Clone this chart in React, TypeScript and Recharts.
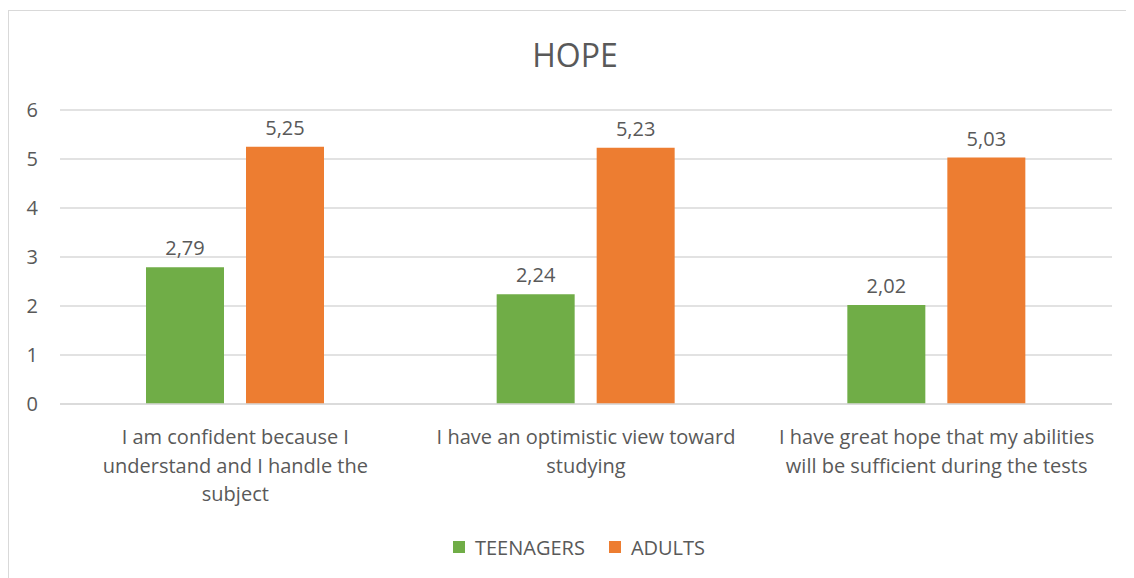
import React from 'react'
import {
  BarChart,
  Bar,
  XAxis,
  YAxis,
  CartesianGrid,
  Legend,
  LabelList,
  Text,
} from 'recharts'

// categories and wrapped tick lines
const CATEGORIES = [
  'I am confident because I understand and I handle the subject',
  'I have an optimistic view toward studying',
  'I have great hope that my abilities will be sufficient during the tests',
]
const TICK_LINES = [
  ['I am confident because I', 'understand and I handle the', 'subject'],
  ['I have an optimistic view toward', 'studying'],
  ['I have great hope that my abilities', 'will be sufficient during the tests'],
]
const TEENAGERS = [2.79, 2.24, 2.02]
const ADULTS = [5.25, 5.23, 5.03]
const Y_TICKS = [0, 1, 2, 3, 4, 5, 6]

const SERIES = [
  { key: 'teenagers', name: 'TEENAGERS', color: '#70ad47' },
  { key: 'adults', name: 'ADULTS', color: '#ed7d31' },
]

const TEXT_COLOR = '#595959'
const FONT = '"Open Sans", "Noto Sans", sans-serif'
const FS = 20

const data = CATEGORIES.map((name, i) => ({
  name,
  teenagers: TEENAGERS[i],
  adults: ADULTS[i],
}))

const fmt = (v: any) => String(v).replace('.', ',')

function CategoryTick(props: any) {
  const { x, y, index } = props
  const lines = TICK_LINES[index] || []
  return (
    <g>
      {lines.map((line, i) => (
        <Text
          key={i}
          x={x}
          y={y + i * 28.5}
          textAnchor="middle"
          verticalAnchor="start"
          fill={TEXT_COLOR}
          fontSize={FS}
          fontFamily={FONT}
        >
          {line}
        </Text>
      ))}
    </g>
  )
}

function LegendBox() {
  return (
    <div
      style={{
        height: 28,
        display: 'flex',
        justifyContent: 'center',
        alignItems: 'center',
        paddingLeft: 26,
        fontSize: FS,
        color: TEXT_COLOR,
        fontFamily: FONT,
      }}
    >
      {SERIES.map((s) => (
        <div key={s.key} style={{ display: 'flex', alignItems: 'center', margin: '0 12px' }}>
          <span style={{ width: 12, height: 12, background: s.color, marginRight: 10 }} />
          <span>{s.name}</span>
        </div>
      ))}
    </div>
  )
}

export default function App() {
  return (
    <div
      style={{
        position: 'relative',
        marginTop: 2,
        width: 1132,
        height: 570,
        border: '1px solid #d9d9d9',
        background: '#fff',
        fontFamily: FONT,
      }}
    >
      <div
        style={{
          position: 'absolute',
          left: 0,
          width: 1132,
          top: 24,
          textAlign: 'center',
          fontSize: 32,
          color: TEXT_COLOR,
          lineHeight: '40px',
        }}
      >
        HOPE
      </div>
      <BarChart
        width={1132}
        height={570}
        data={data}
        margin={{ top: 99, right: 29, left: 11, bottom: 29 }}
        barSize={78}
        barGap={22}
      >
        <CartesianGrid vertical={false} stroke="#d9d9d9" strokeWidth={1.5} />
        <XAxis
          dataKey="name"
          axisLine={{ stroke: '#d9d9d9', strokeWidth: 1.5 }}
          tickLine={false}
          tick={<CategoryTick />}
          tickSize={0}
          tickMargin={26}
          height={120}
          interval={0}
        />
        <YAxis
          domain={[0, 6]}
          ticks={Y_TICKS}
          axisLine={false}
          tickLine={false}
          tickSize={0}
          tickMargin={22}
          width={40}
          tick={{ fill: TEXT_COLOR, fontSize: FS, fontFamily: FONT }}
        />
        <Legend
          verticalAlign="bottom"
          content={<LegendBox />}
          wrapperStyle={{ bottom: 20 }}
        />
        {SERIES.map((s) => (
          <Bar key={s.key} dataKey={s.key} name={s.name} fill={s.color} isAnimationActive={false}>
            <LabelList
              dataKey={s.key}
              position="top"
              offset={12}
              formatter={fmt}
              fill={TEXT_COLOR}
              fontSize={FS}
              fontFamily={FONT}
            />
          </Bar>
        ))}
      </BarChart>
    </div>
  )
}
